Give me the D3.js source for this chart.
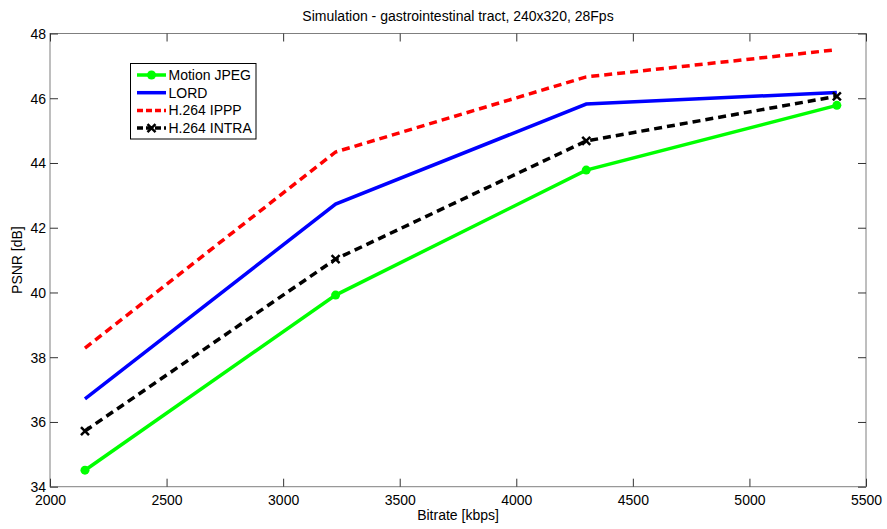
<!DOCTYPE html>
<html><head><meta charset="utf-8">
<script src="https://cdn.jsdelivr.net/npm/d3@7"></script>
<style>body{margin:0;background:#fff}svg{display:block}text{font-family:"Liberation Sans",Arial,sans-serif}</style>
</head><body>
<svg id="c" width="887" height="529"></svg>
<script>
const bitrates = [2150, 3225, 4300, 5375];
const motionJpeg = [34.51, 39.92, 43.78, 45.78];
const lord = [36.71, 42.73, 45.82, 46.18];
const h264Ippp = [38.28, 44.34, 46.66, 47.5];
const h264Intra = [35.72, 41.03, 44.68, 46.06];
const xTicks = [2000, 2500, 3000, 3500, 4000, 4500, 5000, 5500];
const yTicks = [34, 36, 38, 40, 42, 44, 46, 48];
const seriesNames = ["Motion JPEG", "LORD", "H.264 IPPP", "H.264 INTRA"];

const svg = d3.select("#c");
const L = 50, R = 866, T = 33.5, B = 486.7;
const x = d3.scaleLinear().domain([2000, 5500]).range([L, R]);
const y = d3.scaleLinear().domain([34, 48]).range([B, T]);
const axisCol = "#7f7f7f";
const fs = 14;

svg.append("text").attr("x", (L + R) / 2).attr("y", 21).attr("text-anchor", "middle")
  .attr("font-size", fs).text("Simulation - gastrointestinal tract, 240x320, 28Fps");

svg.append("rect").attr("x", L).attr("y", T).attr("width", R - L).attr("height", B - T)
  .attr("fill", "none").attr("stroke", axisCol).attr("stroke-width", 1);

const tl = 8;
const gx = svg.append("g").attr("transform", `translate(0,${B})`)
  .call(d3.axisBottom(x).tickValues(xTicks).tickSize(-tl).tickFormat(d3.format("d")));
const gxt = svg.append("g").attr("transform", `translate(0,${T})`)
  .call(d3.axisTop(x).tickValues(xTicks).tickSize(-tl).tickFormat(""));
const gy = svg.append("g").attr("transform", `translate(${L},0)`)
  .call(d3.axisLeft(y).tickValues(yTicks).tickSize(-tl).tickFormat(d3.format("d")));
const gyr = svg.append("g").attr("transform", `translate(${R},0)`)
  .call(d3.axisRight(y).tickValues(yTicks).tickSize(-tl).tickFormat(""));
[gx, gxt, gy, gyr].forEach(g => {
  g.select(".domain").remove();
  g.selectAll(".tick line").attr("stroke", "#333");
  g.selectAll("text").attr("font-size", fs).attr("fill", "#000")
    .attr("font-family", "'Liberation Sans',Arial,sans-serif");
});
gx.selectAll("text").attr("dy", null).attr("y", 18);
gy.selectAll("text").attr("x", -4).attr("dy", "0.35em");

svg.append("text").attr("x", (L + R) / 2).attr("y", 520).attr("text-anchor", "middle")
  .attr("font-size", fs).text("Bitrate [kbps]");
svg.append("text").attr("transform", `translate(22,${(T + B) / 2}) rotate(-90)`)
  .attr("text-anchor", "middle").attr("font-size", fs).text("PSNR [dB]");

const series = [
  {name: seriesNames[0], vals: motionJpeg, color: "#00ff00", dash: null, marker: "circle"},
  {name: seriesNames[1], vals: lord, color: "#0000ff", dash: null, marker: null},
  {name: seriesNames[2], vals: h264Ippp, color: "#ff0000", dash: "8,5", marker: null},
  {name: seriesNames[3], vals: h264Intra, color: "#000000", dash: "8,5", marker: "x"}
];
const line = d3.line().x((d, i) => x(bitrates[i])).y(d => y(d));

function marker(g, type, cx, cy, color) {
  if (type === "circle") {
    g.append("circle").attr("cx", cx).attr("cy", cy).attr("r", 4.5).attr("fill", color);
  } else if (type === "x") {
    const s = 4;
    g.append("path").attr("d", `M${cx - s},${cy - s}L${cx + s},${cy + s}M${cx - s},${cy + s}L${cx + s},${cy - s}`)
      .attr("stroke", color).attr("stroke-width", 2.5).attr("fill", "none");
  }
}

series.forEach(s => {
  svg.append("path").datum(s.vals).attr("d", line).attr("fill", "none")
    .attr("stroke", s.color).attr("stroke-width", 3.5).attr("stroke-dasharray", s.dash);
  if (s.marker) s.vals.forEach((v, i) => marker(svg, s.marker, x(bitrates[i]), y(v), s.color));
});

const lg = svg.append("g");
lg.append("rect").attr("x", 130.5).attr("y", 63.5).attr("width", 125.5).attr("height", 75.5)
  .attr("fill", "#fff").attr("stroke", "#000").attr("stroke-width", 1);
series.forEach((s, i) => {
  const yy = 75 + i * 17.7;
  lg.append("line").attr("x1", 137).attr("x2", 166).attr("y1", yy).attr("y2", yy)
    .attr("stroke", s.color).attr("stroke-width", 3.5).attr("stroke-dasharray", s.dash ? "6,3" : null);
  if (s.marker) marker(lg, s.marker, 151.5, yy, s.color);
  lg.append("text").attr("x", 168.5).attr("y", yy + 5).attr("font-size", fs).text(s.name);
});
</script>
</body></html>
